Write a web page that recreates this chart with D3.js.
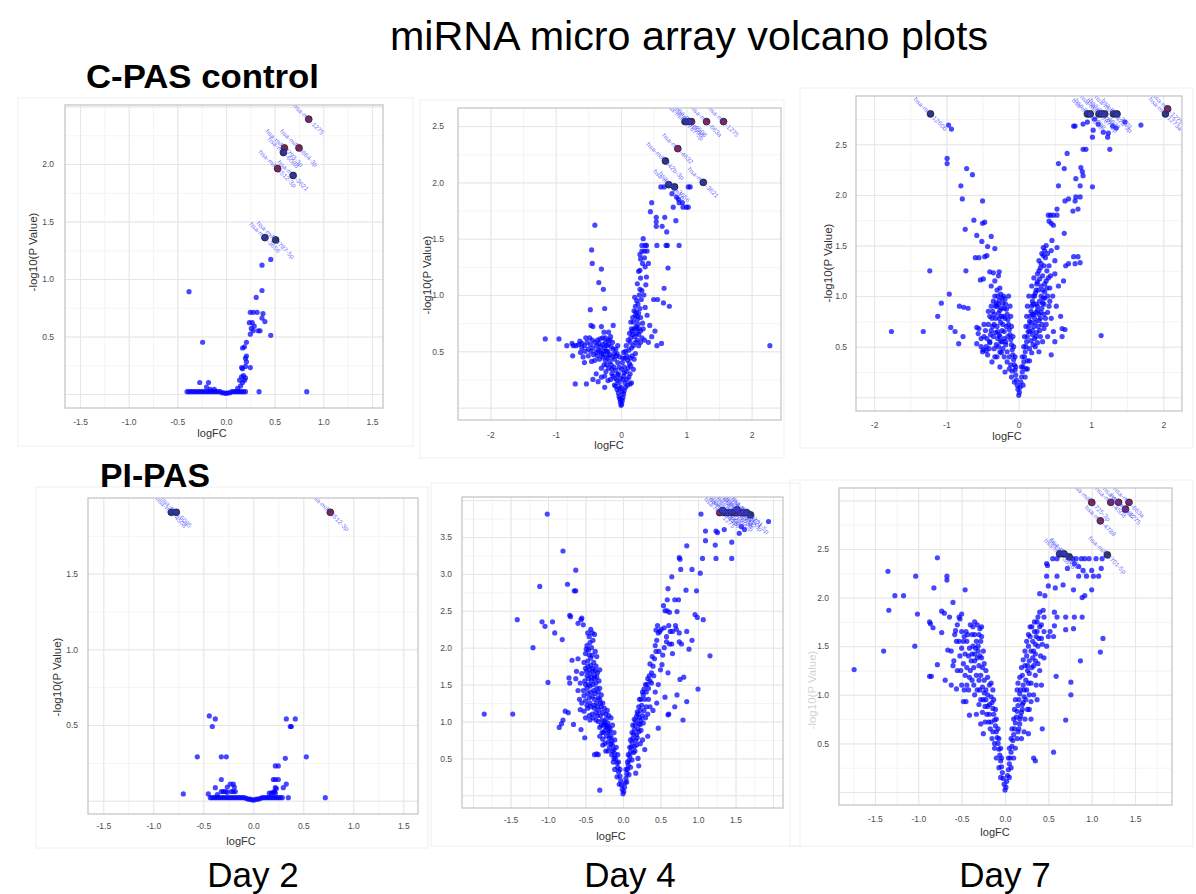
<!DOCTYPE html>
<html><head><meta charset="utf-8">
<script src="https://cdn.jsdelivr.net/npm/d3@7"></script>
<style>
body{margin:0;background:#fff;}
svg{display:block;font-family:"Liberation Sans",Arial,Helvetica,sans-serif;}
</style></head><body>
<svg id="chart" width="1196" height="894"></svg>
<script>
// ---------------- DATA (logFC, -log10 P) ----------------
const xTicksHalf = [-1.5, -1.0, -0.5, 0.0, 0.5, 1.0, 1.5];
const xTicksUnit = [-2, -1, 0, 1, 2];
const yTicks2 = [0.5, 1.0, 1.5, 2.0];
const yTicks25 = [0.5, 1.0, 1.5, 2.0, 2.5];
const yTicks15 = [0.5, 1.0, 1.5];
const yTicks35 = [0.5, 1.0, 1.5, 2.0, 2.5, 3.0, 3.5];
const dayLabels = ["Day 2", "Day 4", "Day 7"];
const groupLabels = ["C-PAS control", "PI-PAS"];

// C-PAS control, Day 2
const cpasD2 = [
[-0.40,0.02],[-0.38,0.02],[-0.36,0.02],[-0.34,0.02],[-0.32,0.02],[-0.30,0.02],[-0.28,0.02],[-0.26,0.02],[-0.24,0.02],[-0.22,0.02],
[-0.20,0.02],[-0.18,0.02],[-0.16,0.02],[-0.14,0.02],[-0.12,0.02],[-0.10,0.02],[-0.08,0.02],[-0.06,0.02],[-0.04,0.01],[-0.02,0.01],
[0.00,0.005],[0.02,0.01],[0.04,0.01],[0.06,0.02],[0.08,0.02],[0.10,0.02],[0.12,0.02],[0.14,0.02],[0.16,0.02],[0.18,0.02],[0.20,0.02],
[0.34,0.02],[0.83,0.02],
[-0.27,0.10],[-0.18,0.10],[-0.20,0.06],[-0.16,0.04],[-0.12,0.04],[0.12,0.05],[0.15,0.07],[0.17,0.10],[0.14,0.12],[0.19,0.12],
[0.16,0.15],[0.18,0.16],[0.20,0.14],[0.17,0.22],[0.16,0.23],[0.20,0.24],[0.25,0.23],[0.21,0.28],[0.20,0.31],[0.21,0.33],
[0.17,0.40],[0.19,0.41],[0.21,0.45],[-0.24,0.45],[0.25,0.52],[0.28,0.55],[0.33,0.55],[0.35,0.55],[0.26,0.57],[0.29,0.59],
[0.24,0.62],[0.27,0.62],[0.40,0.63],[0.37,0.66],[0.25,0.71],[0.28,0.71],[0.32,0.71],[0.38,0.70],[0.46,0.51],[0.31,0.84],
[0.37,0.90],[0.37,1.12],[0.46,1.17],[-0.38,0.89]
];
const cpasD2Hits = [
[0.85,2.39,"hsa-miR-1275","up"],[0.75,2.14,"hsa-miR-4664-3p","up"],[0.60,2.14,"hsa-miR-4793-3p","up"],
[0.59,2.10,"hsa-miR-6088","sig"],[0.53,1.96,"hsa-miR-6512-3p","up"],[0.69,1.90,"hsa-miR-3621","sig"],
[0.40,1.36,"hsa-miR-3656","sig"],[0.51,1.34,"hsa-miR-4787-5p","sig"]
];

// C-PAS control, Day 4
const cpasD4 = [
[0,0.02],[0.01,0.03],[-0.01,0.05],[0.02,0.06],[-0.02,0.08],[0.03,0.09],[-0.03,0.10],[0.00,0.07],
[0.04,0.12],[-0.04,0.13],[0.05,0.15],[-0.06,0.16],[0.02,0.14],[-0.02,0.17],[0.07,0.18],[-0.08,0.19],[0.10,0.20],[0.14,0.21],[-0.10,0.20],
[0.06,0.22],[-0.06,0.24],[0.09,0.25],[-0.09,0.26],[0.12,0.27],[-0.12,0.28],[0.04,0.28],[0.14,0.30],[-0.14,0.30],[0.16,0.22],[-0.16,0.25],[-0.20,0.24],
[0.08,0.32],[-0.08,0.33],[0.11,0.35],[-0.11,0.36],[0.15,0.37],[-0.15,0.38],[0.19,0.34],[-0.19,0.35],[-0.23,0.32],[0.13,0.39],[-0.26,0.38],[-0.30,0.35],
[0.10,0.42],[-0.10,0.43],[0.14,0.44],[-0.13,0.45],[0.17,0.46],[-0.17,0.47],[0.20,0.43],[-0.21,0.44],[-0.24,0.42],[-0.28,0.45],[-0.33,0.43],[0.22,0.48],
[-0.36,0.46],[-0.40,0.42],[-0.45,0.41],[-0.50,0.46],[-0.05,0.40],[-0.04,0.30],[0.05,0.36],[0.03,0.44],[-0.06,0.48],[0.07,0.50],
[0.12,0.51],[-0.12,0.52],[0.16,0.53],[-0.15,0.54],[0.19,0.55],[-0.19,0.56],[-0.22,0.55],[-0.25,0.53],[-0.28,0.56],[-0.31,0.54],
[-0.34,0.57],[-0.37,0.55],[-0.40,0.58],[-0.43,0.53],[-0.47,0.56],[-0.52,0.58],[-0.56,0.55],[-0.60,0.57],[-0.65,0.56],[-0.69,0.55],
[0.22,0.58],[0.25,0.60],[0.14,0.58],[-0.08,0.52],[-0.26,0.50],[-0.30,0.48],[-0.20,0.50],[-0.35,0.51],[-0.24,0.58],[-0.17,0.60],
[0.15,0.62],[-0.20,0.60],[0.18,0.65],[0.21,0.63],[0.24,0.66],[0.20,0.70],[0.23,0.72],[0.26,0.74],[0.28,0.70],[0.32,0.62],
[0.36,0.60],[-0.24,0.62],[-0.32,0.61],[-0.16,0.63],[0.25,0.78],[0.30,0.80],[0.27,0.84],[0.22,0.82],[0.17,0.68],[0.19,0.76],
[-0.03,0.22],[0.03,0.25],[-0.05,0.29],[0.05,0.31],[0.00,0.18],[-0.01,0.26],[0.01,0.34],[-0.03,0.36],[0.02,0.40],[0.06,0.44],
[-0.07,0.46],[-0.10,0.48],[0.09,0.46],[0.04,0.49],[-0.02,0.45],[0.08,0.55],[-0.05,0.55],[-0.13,0.58],[0.11,0.60],[0.13,0.66],
[0.16,0.70],[0.15,0.76],[0.18,0.80],[0.20,0.86],[-0.22,0.50],[-0.27,0.47],[-0.32,0.50],[-0.38,0.49],[-0.42,0.47],[-0.46,0.50],
[-0.50,0.52],[-0.55,0.50],[-0.58,0.45],[-0.44,0.60],[-0.48,0.62],[-0.36,0.60],[-0.28,0.62],[-0.20,0.46],[-0.17,0.41],[-0.14,0.34],
[-0.22,0.38],[-0.25,0.28],[-0.60,0.53],[-0.63,0.59],[-0.75,0.57],[-0.54,0.62],[0.27,0.65],[0.30,0.68],[0.24,0.70],[0.33,0.75],
[0.29,0.88],[0.26,0.92],[0.31,0.96],[0.35,1.00],[0.25,1.10],[0.30,1.15],[0.33,1.28],[0.30,1.32],[0.27,0.55],[0.30,0.58],
[-0.12,0.73],[-0.26,0.67],[-0.19,0.67],[-0.30,0.72],[-0.46,0.73],[-0.43,0.72],[-0.25,0.88],[-0.47,0.87],[-0.27,1.05],[-0.34,1.11],
[-0.30,1.23],[-0.44,1.28],[-0.45,1.40],[-0.40,1.62],[-1.16,0.61],[-0.95,0.61],[-0.83,0.55],[-0.73,0.55],[-0.74,0.46],[-0.70,0.21],
[-0.53,0.21],[-0.43,0.25],[-0.35,0.23],[-0.56,0.40],[-0.62,0.49],[-0.38,0.30],[-0.30,0.27],[-0.25,0.18],
[0.22,0.90],[0.24,0.95],[0.21,0.98],[0.28,1.00],[0.29,1.05],[0.32,1.04],[0.38,1.09],[0.29,1.22],[0.27,1.21],[0.39,1.16],
[0.37,1.25],[0.42,1.28],[0.36,1.33],[0.29,1.36],[0.32,1.39],[0.36,1.39],[0.40,1.39],[0.32,1.44],[0.37,1.44],[0.39,1.44],
[0.55,1.44],[0.69,1.44],[0.71,1.44],[0.89,1.44],[0.34,1.50],[0.72,1.24],[0.66,1.06],[0.50,0.96],[0.56,0.96],[0.65,0.93],
[0.74,0.90],[0.37,0.89],[0.40,0.82],[0.44,0.73],[0.23,0.85],[0.25,0.81],[0.47,0.63],[0.52,0.68],[0.62,0.57],[0.55,0.55],[0.34,0.70],[0.42,0.58],
[0.47,1.82],[0.45,1.74],[0.54,1.65],[0.54,1.61],[0.54,1.69],[0.67,1.69],[0.70,1.56],[0.63,1.61],[0.84,1.66],[0.80,1.78],
[0.89,1.82],[0.94,1.82],[0.95,1.78],[1.00,1.78],[1.03,1.78],[0.61,1.96],[0.66,1.96],[1.03,1.96],[1.06,1.96],[0.85,1.87],
[0.88,1.85],[0.78,1.90],[2.28,0.55]
];
const cpasD4Hits = [
[1.57,2.54,"hsa-miR-1275","up"],[1.31,2.54,"hsa-miR-663a","up"],[1.08,2.54,"hsa-miR-4508","up"],
[1.04,2.54,"hsa-miR-6088","sig"],[0.98,2.54,"hsa-miR-4787-5p","sig"],[0.87,2.30,"hsa-miR-4632","up"],
[0.68,2.19,"hsa-miR-642b-3p","sig"],[0.73,1.98,"hsa-miR-4516","sig"],[0.82,1.96,"hsa-miR-3656","sig"],
[1.26,2.00,"hsa-miR-3621","sig"]
];

// C-PAS control, Day 7
const cpasD7 = [
[0,0.02],[0.01,0.05],[-0.01,0.08],[0.02,0.10],[-0.02,0.12],[0.03,0.15],[-0.03,0.17],[0.04,0.20],[-0.04,0.22],[0.05,0.25],
[-0.05,0.27],[0.06,0.30],[-0.06,0.32],[0.07,0.35],[-0.07,0.37],[0.08,0.40],[-0.08,0.42],[0.09,0.45],[-0.09,0.47],[0.10,0.50],
[-0.10,0.52],[0.11,0.55],[-0.11,0.57],[0.12,0.60],[-0.12,0.62],[0.13,0.65],[-0.13,0.67],[0.14,0.70],[-0.14,0.72],[0.15,0.75],
[-0.15,0.77],[0.16,0.80],[-0.16,0.82],[0.17,0.85],[-0.17,0.87],[0.18,0.90],[-0.18,0.92],[0.19,0.95],[-0.19,0.97],[0.20,1.00],
[-0.06,0.15],[-0.10,0.20],[-0.13,0.28],[-0.16,0.35],[-0.20,0.40],[-0.22,0.48],[-0.25,0.55],[-0.20,0.58],[-0.27,0.62],[-0.23,0.66],
[-0.30,0.70],[-0.25,0.74],[-0.32,0.78],[-0.21,0.80],[-0.28,0.83],[-0.24,0.88],[-0.30,0.90],[-0.22,0.93],[-0.27,0.96],[-0.33,1.00],
[-0.25,1.02],[-0.30,1.06],[-0.35,0.60],[-0.40,0.55],[-0.38,0.66],[-0.42,0.72],[-0.36,0.85],[-0.45,0.50],[-0.50,0.45],[-0.48,0.60],
[-0.43,0.42],[-0.52,0.58],[-0.55,0.68],[-0.58,0.53],[-0.40,0.80],[-0.34,0.48],[-0.30,0.40],[-0.37,0.35],[-0.26,0.30],[-0.19,0.25],
[-0.33,1.15],[-0.38,1.10],[-0.28,1.20],[-0.26,0.45],[-0.18,0.52],[-0.23,0.98],[-0.29,0.65],[-0.34,0.72],[-0.27,0.78],[-0.31,0.93],
[-0.04,0.30],[-0.05,0.40],[-0.07,0.50],[-0.08,0.60],[-0.10,0.70],[-0.11,0.80],[-0.12,0.90],[-0.14,1.00],[-0.16,0.45],[-0.18,0.55],
[-0.20,0.65],[-0.22,0.72],[-0.24,0.80],[-0.26,0.86],[-0.28,0.92],[-0.15,0.60],[-0.17,0.70],[-0.19,0.78],[-0.20,0.88],[-0.23,0.55],
[-0.26,0.60],[-0.29,0.58],[-0.32,0.64],[-0.31,0.52],[-0.36,0.70],[-0.39,0.62],[-0.41,0.48],[-0.44,0.58],[-0.46,0.66],[-0.34,0.82],
[-0.37,0.78],[-0.32,0.90],[-0.35,0.95],[-0.38,0.90],[-0.29,1.00],[-0.26,1.08],[-0.21,1.00],[-0.13,0.40],[-0.11,0.32],[-0.09,0.26],
[-0.24,0.44],[-0.28,0.50],[-0.33,0.40],[-0.48,0.72],[-0.52,0.50],[-0.42,0.85],
[0.06,0.12],[0.09,0.20],[0.12,0.28],[0.15,0.36],[0.18,0.44],[0.20,0.52],[0.22,0.58],[0.25,0.64],[0.19,0.66],[0.27,0.70],
[0.23,0.74],[0.30,0.78],[0.21,0.82],[0.26,0.86],[0.32,0.88],[0.24,0.92],[0.29,0.95],[0.34,0.98],[0.23,1.03],[0.27,1.06],
[0.31,1.10],[0.36,1.04],[0.40,1.00],[0.25,1.12],[0.29,1.17],[0.33,1.20],[0.38,1.15],[0.43,1.08],[0.35,0.82],[0.38,0.72],
[0.42,0.90],[0.45,0.78],[0.48,0.65],[0.40,0.60],[0.33,0.55],[0.28,0.45],[0.45,0.42],[0.50,0.55],[0.52,0.90],[0.47,1.00],
[0.30,1.28],[0.35,1.30],[0.28,1.35],[0.32,1.42],[0.37,1.38],[0.42,1.30],[0.34,1.48],[0.38,1.50],[0.45,1.45],[0.50,1.35],
[0.55,1.10],[0.60,0.68],[0.64,0.67],[0.60,0.60],[0.58,0.80],[0.62,1.15],[0.65,1.30],[0.69,1.32],[0.78,1.32],[0.76,1.39],
[0.82,1.39],[0.85,1.33],[0.50,1.22],[0.53,1.48],[0.24,0.60],[0.28,0.82],[0.31,1.00],[0.35,0.92],[0.26,1.22],[0.39,1.25],
[0.04,0.30],[0.05,0.40],[0.07,0.50],[0.08,0.60],[0.10,0.70],[0.11,0.80],[0.12,0.90],[0.14,1.00],[0.15,0.48],[0.17,0.56],
[0.19,0.62],[0.21,0.70],[0.22,0.78],[0.24,0.84],[0.26,0.90],[0.15,0.65],[0.17,0.74],[0.19,0.82],[0.20,0.92],[0.22,1.00],
[0.24,1.06],[0.26,1.14],[0.28,1.25],[0.31,1.32],[0.28,0.76],[0.31,0.84],[0.33,0.93],[0.36,0.98],[0.33,1.06],[0.36,1.12],
[0.39,1.08],[0.41,1.18],[0.44,1.20],[0.29,0.66],[0.32,0.72],[0.35,0.68],[0.37,0.78],[0.40,0.84],[0.43,0.95],[0.18,1.10],
[0.21,1.18],[0.12,0.36],[0.10,0.28],[0.23,0.50],[0.26,0.54],[0.30,0.60],[0.34,1.40],[0.36,1.45],[0.40,1.42],[0.46,1.55],
[0.41,1.80],[0.44,1.80],[0.48,1.80],[0.53,1.80],[0.42,1.74],[0.45,1.72],[0.48,1.70],[0.53,1.86],[0.63,1.62],[0.69,1.96],
[0.64,1.94],[0.79,1.98],[0.78,1.94],[0.85,1.98],[0.82,1.86],[0.75,1.84],[0.55,2.09],[0.85,2.09],[1.02,2.08],[0.79,2.16],
[0.89,2.19],[0.86,2.27],[0.88,2.23],[0.55,2.31],[0.63,2.26],[0.67,2.41],[0.89,2.45],[0.93,2.45],[1.26,2.45],[1.02,2.57],
[1.23,2.57],[0.76,2.68],[0.78,2.68],[0.89,2.70],[1.05,2.75],[1.03,2.64],[1.17,2.62],[1.24,2.61],[1.47,2.72],[1.69,2.69],
[1.10,2.70],[1.30,2.68],[1.35,2.66],[0.95,2.72],
[-0.97,2.69],[-0.93,2.65],[-0.99,2.36],[-0.99,2.31],[-0.72,2.26],[-0.64,2.20],[-0.80,2.09],[-0.78,1.96],[-0.50,1.94],[-0.62,1.75],
[-0.50,1.72],[-0.47,1.73],[-0.74,1.66],[-0.58,1.60],[-0.38,1.59],[-0.51,1.54],[-0.43,1.49],[-0.33,1.47],[-0.60,1.38],[-0.55,1.38],
[-0.47,1.39],[-0.44,1.40],[-1.23,1.25],[-0.73,1.25],[-0.40,1.24],[-0.35,1.23],[-0.27,1.24],[-0.53,1.16],[-0.49,1.17],[-0.96,1.02],
[-1.07,0.93],[-0.82,0.90],[-0.76,0.89],[-0.70,0.88],[-1.12,0.80],[-1.76,0.65],[-1.32,0.65],[-0.94,0.69],[-0.88,0.65],[-0.77,0.60],
[-0.83,0.53],[-0.58,0.69],[-0.56,0.63],[-0.49,0.47],[-0.45,0.46],[-0.40,0.54],[1.14,0.61]
];
const cpasD7Hits = [
[-1.22,2.80,"hsa-miR-1260b","sig"],[0.95,2.80,"hsa-miR-4508","sig"],[0.99,2.80,"hsa-miR-6088","sig"],
[1.11,2.80,"hsa-miR-4787-5p","sig"],[1.15,2.80,"hsa-miR-3656","sig"],[1.19,2.80,"hsa-miR-4632","sig"],
[1.31,2.80,"hsa-miR-642b-3p","sig"],[1.36,2.80,"hsa-miR-3621","sig"],[2.03,2.80,"hsa-miR-1273a","sig"],
[2.06,2.85,"hsa-miR-1275","up"]
];

// PI-PAS, Day 2
const pipasD2 = [
[-0.43,0.02],[-0.41,0.02],[-0.39,0.02],[-0.37,0.02],[-0.35,0.02],[-0.33,0.02],[-0.31,0.02],[-0.29,0.02],[-0.27,0.02],[-0.25,0.02],
[-0.23,0.02],[-0.21,0.02],[-0.19,0.02],[-0.17,0.02],[-0.15,0.02],[-0.13,0.02],[-0.11,0.02],[-0.09,0.02],[-0.07,0.015],[-0.05,0.01],
[-0.03,0.01],[-0.01,0.005],[0.01,0.005],[0.03,0.01],[0.05,0.01],[0.07,0.015],[0.09,0.02],[0.11,0.02],[0.13,0.02],[0.15,0.02],
[0.17,0.02],[0.19,0.02],[0.21,0.02],[0.23,0.02],[0.25,0.02],[0.27,0.02],[0.29,0.02],[0.35,0.02],[0.72,0.02],
[-0.70,0.045],[-0.45,0.045],[-0.36,0.04],[-0.32,0.06],[-0.30,0.06],[-0.28,0.06],[-0.26,0.055],[-0.22,0.06],[-0.20,0.06],[-0.18,0.06],
[0.16,0.05],[0.18,0.05],[0.20,0.055],[0.22,0.05],[0.21,0.06],[0.23,0.08],[-0.38,0.086],[-0.26,0.09],[-0.23,0.11],[-0.20,0.11],
[-0.19,0.09],[0.22,0.086],[0.30,0.086],[0.33,0.11],[0.20,0.14],[0.22,0.14],[0.25,0.14],[-0.32,0.14],[0.22,0.23],[0.25,0.23],
[0.32,0.28],[0.53,0.29],[-0.56,0.29],[-0.32,0.29],[-0.27,0.29],[-0.44,0.56],[-0.38,0.54],[-0.41,0.49],[0.33,0.54],[0.42,0.54],
[0.37,0.49],[0.38,0.49]
];
const pipasD2Hits = [
[-0.82,1.905,"hsa-miR-4508","sig"],[-0.77,1.905,"hsa-miR-6085","sig"],[0.77,1.905,"hsa-miR-6512-3p","up"]
];

// PI-PAS, Day 4
const pipasD4 = [
[0,0.02],[0.01,0.05],[-0.01,0.08],[0.02,0.11],[-0.02,0.14],[0.03,0.17],[-0.03,0.20],[0.04,0.23],[-0.04,0.26],[0.05,0.29],
[-0.06,0.32],[0.06,0.35],[-0.07,0.38],[0.07,0.41],[-0.08,0.44],[0.08,0.47],[-0.10,0.50],[0.09,0.53],[-0.11,0.56],[0.10,0.59],
[-0.12,0.62],[0.11,0.65],[-0.14,0.68],[0.12,0.71],[-0.15,0.74],[0.13,0.77],[-0.16,0.80],[0.14,0.83],[-0.18,0.86],[0.15,0.89],
[-0.19,0.92],[0.16,0.95],[-0.20,0.98],[0.17,1.01],[-0.22,1.04],[0.18,1.07],[-0.23,1.10],[0.19,1.13],
[-0.05,0.15],[-0.08,0.25],[-0.11,0.35],[-0.13,0.45],[-0.15,0.55],[-0.18,0.65],[-0.20,0.72],[-0.22,0.80],[-0.24,0.88],[-0.26,0.95],
[-0.28,1.02],[-0.30,1.08],[-0.17,0.90],[-0.21,0.94],[-0.25,1.00],[-0.27,1.12],[-0.32,1.15],[-0.29,1.20],[-0.35,1.25],[-0.31,1.30],
[-0.38,1.30],[-0.28,0.85],[-0.31,0.92],[-0.33,0.55],[-0.38,0.55],[-0.31,0.80],[-0.20,0.60],[-0.24,0.70],[-0.27,0.76],
[-0.04,0.35],[-0.06,0.45],[-0.07,0.55],[-0.09,0.65],[-0.11,0.75],[-0.12,0.85],[-0.14,0.95],[-0.16,1.05],[-0.12,0.50],[-0.14,0.60],
[-0.16,0.70],[-0.18,0.78],[-0.20,0.85],[-0.22,0.92],[-0.24,0.97],[-0.19,1.08],[-0.21,1.15],[-0.25,1.18],[-0.27,1.25],[-0.30,1.25],
[-0.33,1.32],[-0.29,1.36],[-0.35,1.45],[-0.31,1.45],[-0.39,1.42],[-0.43,1.40],[-0.47,1.38],[-0.50,1.50],[-0.46,1.50],[-0.42,1.55],
[-0.38,1.58],[-0.35,1.60],[-0.48,1.62],[-0.44,1.65],[-0.40,1.68],[-0.36,1.75],[-0.43,1.76],[-0.47,1.75],[-0.50,1.72],[-0.41,1.90],
[-0.45,1.90],[-0.37,1.95],[-0.49,1.98],[-0.45,2.15],[-0.41,2.20],[-0.44,1.25],[-0.48,1.22],[-0.52,1.35],[-0.38,1.18],[-0.34,1.08],
[-0.26,0.85],[-0.29,0.95],[-0.33,1.00],[-0.36,1.02],[-0.40,1.05],[-0.44,1.02],[-0.27,0.68],[-0.23,0.60],
[-0.50,1.05],[-0.45,1.08],[-0.41,1.10],[-0.36,1.12],[-0.52,1.14],[-0.47,1.18],[-0.43,1.20],[-0.39,1.22],[-0.34,1.20],[-0.55,1.25],
[-0.50,1.28],[-0.45,1.32],[-0.41,1.34],[-0.37,1.38],[-0.33,1.40],[-0.53,1.42],[-0.48,1.45],[-0.44,1.48],[-0.40,1.50],[-0.36,1.52],
[-0.32,1.55],[-0.51,1.55],[-0.46,1.58],[-0.42,1.60],[-0.38,1.62],[-0.34,1.66],[-0.55,1.65],[-0.49,1.68],[-0.45,1.70],[-0.41,1.72],
[-0.37,1.69],[-0.31,1.70],[-0.52,1.80],[-0.47,1.82],[-0.43,1.86],[-0.39,1.80],[-0.35,1.88],[-0.50,1.92],[-0.46,1.97],[-0.42,2.00],
[-0.48,2.03],[-0.44,2.07],[-0.40,2.10],[-0.38,2.18],[-0.47,2.20],[-0.43,2.25],[-0.55,2.40],[-0.56,2.38],[-0.53,2.31],[-0.60,1.85],
[-0.62,1.68],[-0.63,1.58],[-0.57,1.52],[-0.58,1.30],[-0.57,1.16],[-0.56,0.89],[-0.51,0.78],[-0.60,1.42],[-0.35,0.56],
[-1.01,3.81],[-0.80,3.31],[-0.63,3.05],[-1.11,2.83],[-0.74,2.86],[-0.65,2.77],[-0.63,2.77],[-1.41,2.38],[-1.08,2.35],[-1.04,2.29],
[-0.94,2.35],[-0.91,2.20],[-0.81,2.11],[-0.71,2.44],[-0.70,2.42],[-0.60,2.33],[-1.20,2.00],[-1.00,1.53],[-1.85,1.10],[-1.47,1.10],
[-0.82,0.97],[-0.80,1.02],[-0.85,0.92],[-0.77,1.14],[-0.73,1.12],[-0.72,1.59],[-0.71,1.52],[-0.68,1.83],[-0.66,0.96],[-0.31,0.07],
[0.05,0.18],[0.08,0.28],[0.10,0.38],[0.12,0.48],[0.14,0.58],[0.15,0.66],[0.17,0.74],[0.18,0.82],[0.20,0.90],[0.21,0.97],
[0.22,1.05],[0.20,0.50],[0.21,0.40],[0.17,0.30],[0.24,0.88],[0.23,1.15],[0.25,1.22],[0.22,1.30],[0.27,1.36],[0.26,1.08],
[0.04,0.35],[0.06,0.45],[0.07,0.55],[0.09,0.65],[0.10,0.75],[0.12,0.85],[0.13,0.95],[0.15,1.03],[0.16,0.60],[0.18,0.68],
[0.19,0.78],[0.21,0.86],[0.23,0.96],[0.24,1.02],[0.20,1.10],[0.21,1.20],[0.24,1.30],[0.26,1.40],[0.29,1.30],[0.31,1.40],
[0.32,1.50],[0.34,1.45],[0.28,1.15],[0.30,1.05],[0.27,0.98],[0.26,0.75],[0.23,0.70],[0.36,1.55],[0.40,1.75],[0.42,1.85],
[0.44,1.95],[0.36,1.20],[0.33,1.10],[0.43,1.40],[0.47,1.50],[0.50,1.70],[0.53,1.90],[0.55,2.00],[0.58,2.15],[0.62,2.05],
[0.28,1.44],[0.30,1.50],[0.33,1.58],[0.35,1.62],[0.38,1.66],[0.36,1.78],[0.39,1.88],[0.43,2.03],[0.45,2.10],[0.47,2.20],
[0.44,2.24],[0.46,2.30],[0.49,2.22],[0.51,2.25],[0.55,2.27],[0.58,2.08],[0.61,2.30],[0.63,2.22],[0.66,2.22],[0.65,2.05],
[0.66,1.92],[0.60,1.66],[0.52,1.77],[0.48,1.95],[0.41,1.62],[0.38,1.52],[0.34,1.30],[0.31,1.20],[0.40,1.15],[0.45,1.25],
[0.56,1.33],[0.61,1.10],[0.69,1.20],[0.47,0.91],[0.33,0.80],[0.29,0.62],[0.56,2.50],[0.59,2.50],[0.62,2.48],[0.70,2.30],
[0.71,2.25],[0.75,2.20],[0.78,2.05],[0.81,1.60],[0.76,1.57],[0.72,1.36],[0.85,1.27],[0.80,1.02],[0.60,1.09],[1.00,1.44],[1.16,1.89],
[1.94,3.71],[1.04,3.81],[1.10,3.58],[1.24,3.58],[1.26,3.56],[1.45,3.43],[0.85,3.38],[1.23,3.39],[0.75,3.22],[0.76,3.20],
[1.06,3.21],[1.24,3.21],[1.45,3.21],[0.77,3.06],[0.92,3.06],[1.03,3.01],[0.65,2.96],[0.60,2.80],[0.84,2.78],[0.98,2.77],
[0.59,2.65],[0.69,2.65],[0.74,2.65],[0.72,2.49],[0.54,2.57],[0.96,2.45],[0.99,2.41],[1.07,2.38],[0.85,2.22],[0.92,2.10],
[0.88,1.98],[0.75,2.08],[1.10,3.45],[1.35,3.60],[1.58,3.64],[1.62,3.60],[1.55,3.55]
];
const pipasD4Hits = [
[1.29,3.83,"hsa-miR-1275","up"],[1.36,3.83,"hsa-miR-4508","sig"],[1.40,3.83,"hsa-miR-6088","sig"],
[1.45,3.83,"hsa-miR-3656","sig"],[1.49,3.83,"hsa-miR-4787-5p","sig"],[1.53,3.83,"hsa-miR-663a","up"],
[1.57,3.83,"hsa-miR-4632","sig"],[1.61,3.83,"hsa-miR-642b-3p","up"],[1.65,3.83,"hsa-miR-3621","sig"],
[1.33,3.86,"hsa-miR-4516","sig"],[1.52,3.87,"hsa-miR-1273a","sig"],[1.70,3.80,"hsa-miR-4701-5p","sig"]
];

// PI-PAS, Day 7
const pipasD7 = [
[0,0.02],[0.01,0.05],[-0.01,0.08],[0.02,0.11],[-0.02,0.14],[0.03,0.17],[-0.03,0.20],[0.04,0.23],[-0.04,0.26],[0.05,0.29],
[-0.05,0.32],[0.06,0.35],[-0.06,0.38],[0.07,0.41],[-0.07,0.44],[0.08,0.47],[-0.08,0.50],[0.09,0.53],[-0.09,0.56],[0.10,0.59],
[-0.10,0.62],[0.11,0.65],[-0.11,0.68],[0.12,0.71],[-0.12,0.74],[0.13,0.77],[-0.13,0.80],[0.14,0.83],[-0.14,0.86],[0.15,0.89],
[-0.15,0.92],[0.16,0.95],[-0.16,0.98],[0.17,1.01],
[-0.05,0.15],[-0.07,0.25],[-0.10,0.35],[-0.12,0.45],[-0.15,0.55],[-0.17,0.65],[-0.19,0.72],[-0.21,0.80],[-0.23,0.88],[-0.25,0.95],
[-0.18,0.90],[-0.20,1.00],[-0.22,1.05],[-0.26,1.08],[-0.24,1.15],[-0.28,1.20],[-0.26,1.28],[-0.30,1.30],[-0.27,1.38],[-0.31,1.45],
[-0.28,1.55],[-0.30,1.62],[-0.27,1.70],[-0.32,1.72],[-0.35,1.75],[-0.33,1.20],[-0.35,1.35],[-0.37,1.50],[-0.38,1.62],[-0.40,1.72],
[-0.36,1.10],[-0.40,1.25],[-0.42,1.40],[-0.44,1.55],[-0.45,1.65],[-0.42,1.05],[-0.46,1.20],[-0.48,1.32],[-0.50,1.48],[-0.47,1.60],
[-0.52,1.40],[-0.55,1.25],[-0.50,1.10],[-0.56,1.55],[-0.55,1.72],[-0.58,1.62],[-0.53,1.80],[-0.60,1.30],[-0.62,1.45],[-0.45,0.93],
[-0.41,0.79],[-0.48,0.93],[-0.30,0.90],[-0.33,0.80],[-0.28,0.70],[-0.35,1.00],[-0.25,0.60],[-0.29,1.05],[-0.32,1.38],[-0.38,1.42],
[-0.04,0.35],[-0.05,0.45],[-0.07,0.55],[-0.08,0.65],[-0.10,0.75],[-0.11,0.85],[-0.13,0.95],[-0.14,1.05],[-0.16,1.12],[-0.12,0.50],
[-0.14,0.62],[-0.16,0.72],[-0.18,0.80],[-0.20,0.88],[-0.22,0.95],[-0.24,1.02],[-0.18,1.10],[-0.20,1.18],[-0.22,1.25],[-0.24,1.32],
[-0.25,1.45],[-0.27,1.60],[-0.29,1.68],[-0.33,1.55],[-0.35,1.62],[-0.37,1.70],[-0.34,1.48],[-0.36,1.28],[-0.39,1.35],[-0.41,1.48],
[-0.43,1.62],[-0.38,1.15],[-0.41,1.18],[-0.44,1.28],[-0.46,1.42],[-0.48,1.55],[-0.50,1.65],[-0.44,1.10],[-0.47,1.05],[-0.51,1.25],
[-0.53,1.55],[-0.30,1.15],[-0.32,1.05],[-0.28,0.95],[-0.26,0.82],[-0.23,0.72],[-0.31,1.50],[-0.29,1.40],[-0.35,1.42],
[-1.35,2.27],[-0.78,2.41],[-1.27,2.02],[-1.17,2.02],[-1.34,1.87],[-1.03,2.22],[-1.01,1.83],[-0.82,2.10],[-0.67,2.22],[-0.67,2.18],
[-0.46,2.08],[-0.60,1.95],[-0.73,1.86],[-0.70,1.84],[-0.87,1.75],[-0.86,1.73],[-0.83,1.69],[-0.73,1.64],[-1.04,1.50],[-1.40,1.45],
[-1.74,1.26],[-0.87,1.19],[-0.85,1.19],[-0.78,1.31],[-0.69,1.15],[-0.59,1.35],[-0.66,1.46],[-0.62,1.10],[-0.56,1.06],[-0.52,1.78],
[-0.50,1.83],[-0.57,1.66],[-0.64,1.80],
[0.05,0.15],[0.07,0.25],[0.10,0.35],[0.12,0.45],[0.14,0.55],[0.15,0.62],[0.17,0.70],[0.18,0.78],[0.20,0.85],[0.21,0.92],
[0.22,0.98],[0.18,1.05],[0.21,1.10],[0.24,1.15],[0.20,1.20],[0.26,1.25],[0.23,1.30],[0.28,1.35],[0.25,1.40],[0.30,1.45],
[0.27,1.50],[0.32,1.55],[0.29,1.60],[0.34,1.65],[0.31,1.70],[0.36,1.60],[0.38,1.50],[0.35,1.42],[0.33,1.30],[0.40,1.70],
[0.37,1.75],[0.42,1.58],[0.45,1.65],[0.25,1.05],[0.28,1.00],[0.30,0.93],[0.26,0.85],[0.23,0.75],[0.19,0.55],[0.22,0.62],
[0.30,1.12],[0.35,1.20],[0.40,1.25],[0.45,1.38],[0.48,1.50],[0.50,1.60],[0.45,1.80],[0.40,1.85],[0.35,1.35],[0.30,0.75],
[0.27,0.60],[0.33,0.35],[0.35,0.32],[0.56,0.41],[0.43,0.65],[0.70,0.74],[0.37,0.95],[0.42,1.10],
[0.04,0.35],[0.05,0.45],[0.07,0.55],[0.08,0.65],[0.10,0.75],[0.11,0.85],[0.12,0.95],[0.14,1.05],[0.15,1.12],[0.16,0.65],
[0.17,0.75],[0.19,0.82],[0.20,0.90],[0.22,1.05],[0.17,1.18],[0.19,1.28],[0.21,1.36],[0.23,1.45],[0.25,1.55],[0.27,1.62],
[0.29,1.70],[0.26,1.30],[0.28,1.22],[0.31,1.28],[0.33,1.45],[0.35,1.52],[0.37,1.65],[0.39,1.58],[0.32,1.38],[0.27,1.12],
[0.24,0.95],[0.28,0.85],[0.33,1.00],[0.36,1.10],[0.38,1.32],[0.41,1.40],[0.43,1.52],[0.34,1.75],[0.38,1.80],[0.42,1.72],
[0.48,2.35],[0.49,2.33],[0.48,2.22],[0.60,2.22],[0.50,2.12],[0.58,2.10],[0.67,2.13],[0.79,2.08],[0.89,2.00],[1.00,2.08],
[0.85,2.22],[0.94,2.22],[1.02,2.22],[1.08,2.22],[0.90,2.28],[1.00,2.28],[1.11,2.30],[0.92,2.02],[0.40,2.04],[0.46,2.02],
[0.44,1.87],[0.57,1.85],[0.60,1.80],[0.70,1.80],[0.80,1.80],[0.89,1.80],[0.70,1.67],[0.79,1.68],[0.57,1.71],[0.56,1.60],
[0.52,1.65],[1.13,1.58],[1.10,1.44],[0.87,1.35],[0.76,1.13],[0.76,1.00],[0.59,1.19],
[0.55,2.40],[0.60,2.40],[0.78,2.40],[0.82,2.40],[0.88,2.40],[0.92,2.40],[0.97,2.40],[1.05,2.40],[1.12,2.40],[0.72,2.30],
[0.80,2.35],[0.85,2.32]
];
const pipasD7Hits = [
[1.00,2.98,"hsa-miR-4725-3p","up"],[1.22,2.98,"hsa-miR-4508","up"],[1.31,2.98,"hsa-miR-6088","up"],
[1.43,2.98,"hsa-miR-663a","up"],[1.39,2.91,"hsa-miR-1275","up"],[1.10,2.79,"hsa-miR-4788","up"],
[0.63,2.45,"hsa-miR-3656","sig"],[0.68,2.45,"hsa-miR-4632","sig"],[0.74,2.42,"hsa-miR-642b-3p","sig"],
[1.18,2.44,"hsa-miR-4701-5p","sig"]
];

// ---------------- LAYOUT ----------------
const panels = [
 {pts:cpasD2, hits:cpasD2Hits, L:65, T:105, R:383, B:408, x0:226, xk:97.3, y0:394, yk:115,
  xTicks:xTicksHalf, xStep:0.5, yTicks:yTicks2, yStep:0.5, fmtX:d=>d.toFixed(1),
  xPad:11, yPad:11, xlab:[212,437], ylab:[33,252], box:[18,98,413,446]},
 {pts:cpasD4, hits:cpasD4Hits, L:458, T:108, R:781, B:420, x0:621, xk:65.3, y0:407.6, yk:112.6,
  xTicks:xTicksUnit, xStep:1, yTicks:yTicks25, yStep:0.5, fmtX:d=>String(d),
  xPad:12, yPad:14, xlab:[609,449], ylab:[427,275], box:[420,100,784,458]},
 {pts:cpasD7, hits:cpasD7Hits, L:856, T:96, R:1182, B:411, x0:1018.7, xk:72.3, y0:397.3, yk:101.2,
  xTicks:xTicksUnit, xStep:1, yTicks:yTicks25, yStep:0.5, fmtX:d=>String(d),
  xPad:11, yPad:9, xlab:[1007,440], ylab:[828,263], box:[800,88,1193,448]},
 {pts:pipasD2, hits:pipasD2Hits, L:88, T:498, R:418, B:814, x0:253.3, xk:100, y0:800.7, yk:151.4,
  xTicks:xTicksHalf, xStep:0.5, yTicks:yTicks15, yStep:0.5, fmtX:d=>d.toFixed(1),
  xPad:9, yPad:10, xlab:[241,845], ylab:[57,677], box:[36,487,428,848]},
 {pts:pipasD4, hits:pipasD4Hits, L:462, T:497, R:783, B:808, x0:623, xk:75, y0:795.3, yk:73.8,
  xTicks:xTicksHalf, xStep:0.5, yTicks:yTicks35, yStep:0.5, fmtX:d=>d.toFixed(1),
  xPad:9, yPad:10, xlab:[611,840], ylab:[437,672], box:[431,483,800,846], clipY:432},
 {pts:pipasD7, hits:pipasD7Hits, L:839, T:488, R:1172, B:805, x0:1005, xk:86.7, y0:792, yk:97.2,
  xTicks:xTicksHalf, xStep:0.5, yTicks:yTicks25, yStep:0.5, fmtX:d=>d.toFixed(1),
  xPad:11, yPad:10, xlab:[995,836], ylab:[812,690], box:[790,480,1193,846], faintY:true}
];

const svg = d3.select('#chart');
svg.append('rect').attr('width',1196).attr('height',894).attr('fill','#fff');

function stepRange(a, b, s){
  return d3.range(Math.ceil(a/s - 1e-9), Math.floor(b/s + 1e-9) + 1).map(i => +(i*s).toFixed(4));
}
const FONT = '"Liberation Sans",Arial,sans-serif';

panels.forEach((p, i) => {
  const x = d3.scaleLinear().domain([(p.L - p.x0)/p.xk, (p.R - p.x0)/p.xk]).range([p.L, p.R]);
  const y = d3.scaleLinear().domain([(p.y0 - p.B)/p.yk, (p.y0 - p.T)/p.yk]).range([p.B, p.T]);
  const g = svg.append('g');
  const W = p.R - p.L, H = p.B - p.T;

  g.append('rect').attr('x',p.box[0]).attr('y',p.box[1]).attr('width',p.box[2]-p.box[0]).attr('height',p.box[3]-p.box[1])
    .attr('fill','none').attr('stroke','#efefef').attr('stroke-width',1);

  const [xa, xb] = x.domain(), [ya, yb] = y.domain();
  const xMinor = stepRange(xa, xb, p.xStep/2), xMajor = stepRange(xa, xb, p.xStep);
  const yMinor = stepRange(ya, yb, p.yStep/2), yMajor = stepRange(ya, yb, p.yStep);
  const gridX = (vals, color) => {
    const gg = g.append('g').attr('transform',`translate(0,${p.B})`)
      .call(d3.axisBottom(x).tickValues(vals).tickFormat('').tickSize(-H));
    gg.select('.domain').remove(); gg.selectAll('line').attr('stroke', color);
  };
  const gridY = (vals, color) => {
    const gg = g.append('g').attr('transform',`translate(${p.L},0)`)
      .call(d3.axisLeft(y).tickValues(vals).tickFormat('').tickSize(-W));
    gg.select('.domain').remove(); gg.selectAll('line').attr('stroke', color);
  };
  gridX(xMinor, '#f4f4f4'); gridY(yMinor, '#f4f4f4');
  gridX(xMajor, '#e6e6e6'); gridY(yMajor, '#e6e6e6');

  const ax = g.append('g').attr('transform',`translate(0,${p.B})`)
    .call(d3.axisBottom(x).tickValues(p.xTicks).tickFormat(p.fmtX).tickSize(0).tickPadding(p.xPad));
  ax.select('.domain').remove();
  ax.selectAll('text').attr('font-size',8.5).attr('fill','#4d4d4d').attr('font-family',FONT);
  const ay = g.append('g').attr('transform',`translate(${p.L},0)`)
    .call(d3.axisLeft(y).tickValues(p.yTicks).tickFormat(d=>d.toFixed(1)).tickSize(0).tickPadding(p.yPad));
  ay.select('.domain').remove();
  ay.selectAll('text').attr('font-size',8.5).attr('fill','#4d4d4d').attr('font-family',FONT);

  const cid = 'clip' + i;
  svg.append('clipPath').attr('id', cid).append('rect').attr('x',p.L).attr('y',p.T).attr('width',W).attr('height',H);
  const plot = g.append('g').attr('clip-path',`url(#${cid})`);

  plot.selectAll('circle.pt').data(p.pts).join('circle').attr('class','pt')
    .attr('cx', d => x(d[0])).attr('cy', d => y(d[1])).attr('r', 2.6)
    .attr('fill', '#0000ff').attr('fill-opacity', 0.72);

  plot.selectAll('circle.hit').data(p.hits).join('circle').attr('class','hit')
    .attr('cx', d => x(d[0])).attr('cy', d => y(d[1])).attr('r', 3.4)
    .attr('fill', d => d[3] === 'up' ? '#8a2330' : '#2b3768')
    .attr('stroke', '#1a1a2a').attr('stroke-width', 0.8);

  plot.selectAll('text.lab').data(p.hits).join('text').attr('class','lab')
    .attr('transform', d => `translate(${x(d[0])},${y(d[1])}) rotate(45)`)
    .attr('text-anchor','middle').attr('dy','0.35em')
    .attr('font-size', 6.5).attr('fill', '#3a3aff').attr('fill-opacity', 0.75)
    .text(d => d[2]);

  g.append('rect').attr('x',p.L).attr('y',p.T).attr('width',W).attr('height',H)
    .attr('fill','none').attr('stroke','#c6c6c6').attr('stroke-width',1.3);

  g.append('text').attr('x',p.xlab[0]).attr('y',p.xlab[1]).attr('text-anchor','middle')
    .attr('font-size',11).attr('fill','#333').text('logFC');
  const yl = g.append('text').attr('transform',`translate(${p.ylab[0]},${p.ylab[1]}) rotate(-90)`)
    .attr('text-anchor','middle').attr('dy','0.35em')
    .attr('font-size',11.5).attr('fill','#333').text('-log10(P Value)');
  if (p.faintY) yl.attr('fill-opacity', 0.25);
  if (p.clipY) {
    const cy = 'clipY' + i;
    svg.append('clipPath').attr('id', cy).append('rect').attr('x',p.clipY).attr('y',p.T).attr('width',100).attr('height',H);
    yl.attr('clip-path',`url(#${cy})`);
  }
});

function fitText(sel, w){
  sel.attr('textLength', w).attr('lengthAdjust','spacingAndGlyphs');
  return sel;
}
fitText(svg.append('text').attr('x',390).attr('y',50).attr('font-size',41).attr('fill','#000')
  .text('miRNA micro array volcano plots'), 598);
fitText(svg.append('text').attr('x',86).attr('y',88).attr('font-size',34).attr('font-weight','bold').attr('fill','#000')
  .text(groupLabels[0]), 233);
fitText(svg.append('text').attr('x',100).attr('y',487).attr('font-size',34).attr('font-weight','bold').attr('fill','#000')
  .text(groupLabels[1]), 110);
const dayX = [253, 630, 1005];
dayLabels.forEach((t, i) => {
  svg.append('text').attr('x', dayX[i]).attr('y', 887).attr('text-anchor','middle')
    .attr('font-size', 35).attr('fill','#000').text(t);
});
</script>
</body></html>
